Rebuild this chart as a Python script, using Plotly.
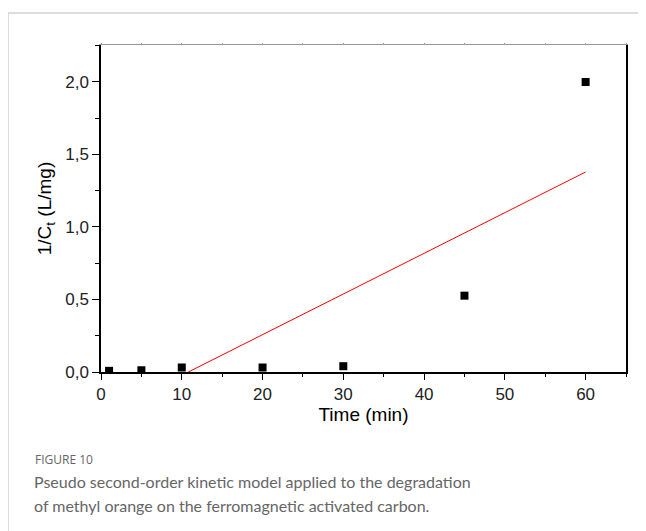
import plotly.graph_objects as go

# Data
time_min = [1, 5, 10, 20, 30, 45, 60]
inv_ct = [0.008, 0.012, 0.031, 0.031, 0.040, 0.526, 1.998]
fit_x = [1, 60]
fit_y = [-0.275, 1.378]

x_major_ticks = [0, 10, 20, 30, 40, 50, 60]
y_major_ticks = [0.0, 0.5, 1.0, 1.5, 2.0]

OFF = 8  # browser body margin
W, H = 646 - OFF, 531 - OFF
L, R, T, B = 101 - OFF, 626 - OFF, 45 - OFF, 372 - OFF  # plot area in figure pixels


def px(xp):
    return (xp - OFF - L) / (R - L)


def py(yp):
    return (B - (yp - OFF)) / (B - T)


fig = go.Figure()

fig.add_trace(go.Scatter(
    x=fit_x, y=fit_y, mode="lines",
    line=dict(color="#ff0000", width=1),
    showlegend=False, hoverinfo="skip",
))
fig.add_trace(go.Scatter(
    x=time_min, y=inv_ct, mode="markers",
    marker=dict(symbol="square", size=8, color="black"),
    showlegend=False,
))
# invisible trace on top axis so it is drawn
fig.add_trace(go.Scatter(x=[0], y=[0], xaxis="x2", mode="markers",
                         marker=dict(opacity=0), showlegend=False, hoverinfo="skip"))

FONT = "Liberation Sans, Arial, sans-serif"
axis_font = dict(family=FONT, size=17, color="#222")

fig.update_layout(
    width=W, height=H,
    margin=dict(l=L, r=W - R, t=T, b=H - B),
    paper_bgcolor="white", plot_bgcolor="white",
    separators=",.",
    xaxis=dict(
        range=[0, 65], showgrid=False, zeroline=False,
        showline=True, linecolor="black", linewidth=1.5,
        tickmode="array", tickvals=x_major_ticks,
        ticks="outside", ticklen=6, tickwidth=1.2, tickcolor="black",
        minor=dict(dtick=5, tick0=0, ticks="outside", ticklen=3, tickwidth=1.2, tickcolor="black"),
        tickfont=axis_font,
        title=dict(text="Time (min)", font=dict(family=FONT, size=19, color="black"), standoff=4),
    ),
    xaxis2=dict(
        overlaying="x", side="top", range=[0, 65], showgrid=False, zeroline=False,
        showline=True, linecolor="#999", linewidth=1,
        tickmode="linear", tick0=0, dtick=5, ticks="outside", ticklen=1, tickcolor="#999",
        showticklabels=False,
    ),
    yaxis=dict(
        range=[0, 2.253], showgrid=False, zeroline=False,
        showline=True, linecolor="black", linewidth=1.5, mirror=True,
        tickmode="array", tickvals=y_major_ticks, tickformat=".1f",
        ticks="outside", ticklen=7, tickwidth=1.2, tickcolor="black",
        minor=dict(dtick=0.25, tick0=0, ticks="outside", ticklen=4, tickwidth=1.2, tickcolor="black"),
        tickfont=axis_font,
        title=dict(text="1/C<sub>t</sub> (L/mg)", font=dict(family=FONT, size=19, color="black"), standoff=9),
    ),
    shapes=[
        dict(type="line", xref="paper", yref="paper", x0=px(8), x1=px(646), y0=py(13), y1=py(13),
             line=dict(color="#d0d0d0", width=1.5)),
        dict(type="line", xref="paper", yref="paper", x0=px(8), x1=px(8), y0=py(13), y1=py(531),
             line=dict(color="#d0d0d0", width=1.5)),
    ],
    annotations=[
        dict(text="FIGURE 10", xref="paper", yref="paper", x=px(33), y=py(459),
             xanchor="left", yanchor="middle", showarrow=False,
             font=dict(family="Open Sans, sans-serif", size=12, color="#666")),
        dict(text="Pseudo second-order kinetic model applied to the degradation",
             xref="paper", yref="paper", x=px(32), y=py(481),
             xanchor="left", yanchor="middle", showarrow=False,
             font=dict(family="Lato, sans-serif", size=16, color="#666")),
        dict(text="of methyl orange on the ferromagnetic activated carbon.",
             xref="paper", yref="paper", x=px(32), y=py(505),
             xanchor="left", yanchor="middle", showarrow=False,
             font=dict(family="Lato, sans-serif", size=16, color="#666")),
    ],
)

fig.write_html("out.html")
